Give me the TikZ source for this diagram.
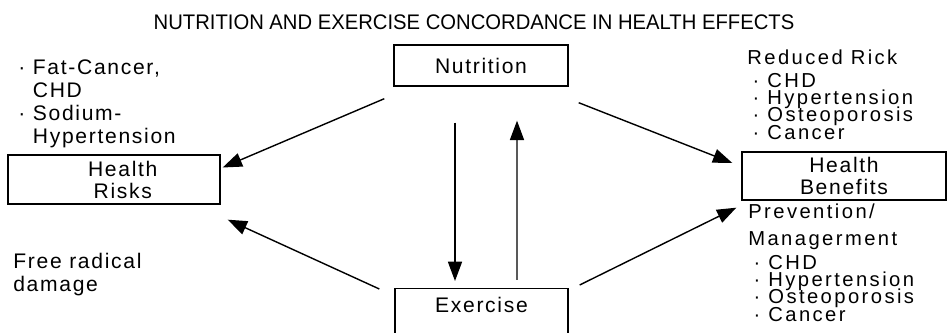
\documentclass[tikz,border=0pt]{standalone}
\usepackage{fontspec}
\setmainfont[LetterSpace=8]{Liberation Sans}
\newfontfamily\titlefont[FakeStretch=0.96]{Liberation Sans}
\newfontfamily\listfont[LetterSpace=12]{Liberation Sans}
\newcommand{\tightlines}{\lineskiplimit=-20pt\relax}
\usetikzlibrary{arrows.meta,positioning}

\begin{document}
\begin{tikzpicture}[x=0.02cm, y=-0.02cm]
% Define styles
\tikzstyle{box} = [rectangle, draw, line width=0.8pt, inner sep=0pt, align=center, font=\fontsize{12}{12.5}\selectfont]
\tikzstyle{note} = [inner sep=0pt, align=left, anchor=north west, font=\fontsize{12}{13.2}\selectfont\tightlines]
\tikzstyle{list} = [note, font=\listfont\fontsize{11.5}{9.8}\selectfont\tightlines]
\tikzstyle{arrow} = [line width=0.8pt, -{Triangle[length=11pt,width=8pt]}]

\useasboundingbox (0,0) rectangle (948,333);

% Title
\node[font=\titlefont\fontsize{12}{13}\selectfont] (title) at (474,22) {NUTRITION AND EXERCISE CONCORDANCE IN HEALTH EFFECTS};

% Centre pair
\node[box, minimum width=3.48cm, minimum height=0.82cm] (nutr) at (481,65.5) {Nutrition};
\node[box, anchor=north, minimum width=3.46cm, text height=0.48cm, text depth=0.6cm] (exer) at (481.5,288) {Exercise};

% Outcomes
\node[box, minimum width=4.24cm, minimum height=0.98cm] (risks) at (114,179.5) {\hspace*{10pt}Health\\\hspace*{10pt}Risks};
\node[box, minimum width=4.08cm, minimum height=0.96cm] (bene) at (844,176) {Health\\Benefits};

% Notes
\node[note] (riskinfo) at (18,59) {\textperiodcentered\ Fat-Cancer,\\\hphantom{\textperiodcentered\ }CHD\\\textperiodcentered\ Sodium-\\\hphantom{\textperiodcentered\ }Hypertension};
\node[note] (radical) at (13,253) {Free radical\\damage};
\node[list] (reduced) at (747,50) {Reduced Rick\\[3pt]
  \hspace*{3pt}\textperiodcentered\ CHD\\
  \hspace*{3pt}\textperiodcentered\ Hypertension\\
  \hspace*{3pt}\textperiodcentered\ Osteoporosis\\
  \hspace*{3pt}\textperiodcentered\ Cancer};
\node[list] (prevent) at (748,204) {Prevention/\\[5.4pt]
  Managerment\\[3.7pt]
  \hspace*{3pt}\textperiodcentered\ CHD\\
  \hspace*{3pt}\textperiodcentered\ Hypertension\\
  \hspace*{3pt}\textperiodcentered\ Osteoporosis\\
  \hspace*{3pt}\textperiodcentered\ Cancer};

% Connections
\draw[arrow] ([shift={(-26,36)}]nutr.south) -- ([shift={(-26.5,-7)}]exer.north);
\draw[arrow] ([shift={(35.5,-8)}]exer.north) -- ([shift={(36,34)}]nutr.south);
\draw[arrow] ([shift={(-9,12)}]nutr.south west) -- ([shift={(2,-12)}]risks.east);
\draw[arrow] ([shift={(-15,1)}]exer.north west) -- ([shift={(7,15)}]risks.south east);
\draw[arrow] ([shift={(10,16)}]nutr.south east) -- ([shift={(-9,-13)}]bene.west);
\draw[arrow] ([shift={(11,-3)}]exer.north east) -- ([shift={(-5,7)}]bene.south west);

\end{tikzpicture}
\end{document}
